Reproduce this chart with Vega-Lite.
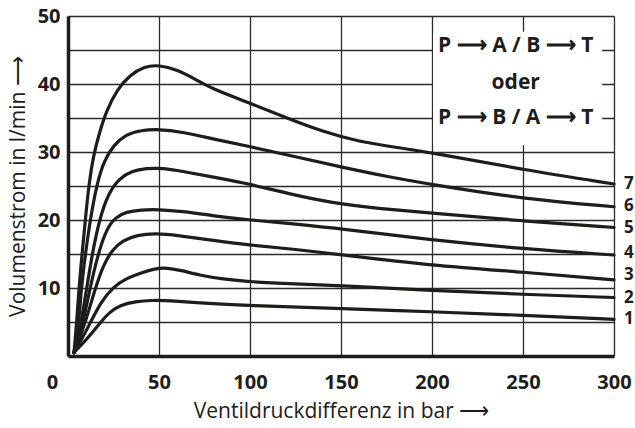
{
  "$schema": "https://vega.github.io/schema/vega-lite/v6.json",
  "autosize": "none",
  "width": 546,
  "height": 340,
  "padding": {"left": 68, "top": 16, "right": 21, "bottom": 72},
  "background": "white",
  "config": {
    "view": {"stroke": null},
    "font": "Open Sans",
    "axis": {"gridColor": "#2b2b2b", "gridWidth": 1.3, "gridOpacity": 1, "ticks": false, "domainColor": "#1d1d1b", "domainWidth": 3.5, "labelColor": "#1d1d1b", "titleColor": "#1d1d1b", "labelFont": "Open Sans", "labelFontWeight": "bold", "labelFontSize": 20, "titleFont": "Open Sans", "titleFontWeight": "normal", "titleFontSize": 21}
  },
  "datasets": {
    "curves": [
      {"curve": 7, "bar": 3.3, "flow": 0.5}, {"curve": 7, "bar": 4.8, "flow": 5}, {"curve": 7, "bar": 6, "flow": 10}, {"curve": 7, "bar": 7.9, "flow": 15.5}, {"curve": 7, "bar": 9.7, "flow": 20.5}, {"curve": 7, "bar": 11.5, "flow": 25.3}, {"curve": 7, "bar": 14, "flow": 29.5}, {"curve": 7, "bar": 17, "flow": 32.6}, {"curve": 7, "bar": 21, "flow": 36}, {"curve": 7, "bar": 27, "flow": 39.2}, {"curve": 7, "bar": 34, "flow": 41.3}, {"curve": 7, "bar": 42, "flow": 42.6}, {"curve": 7, "bar": 50, "flow": 42.8}, {"curve": 7, "bar": 60, "flow": 42.1}, {"curve": 7, "bar": 70, "flow": 40.7}, {"curve": 7, "bar": 80, "flow": 39.2}, {"curve": 7, "bar": 100, "flow": 37.2}, {"curve": 7, "bar": 120, "flow": 35.0}, {"curve": 7, "bar": 140, "flow": 33.0}, {"curve": 7, "bar": 160, "flow": 31.5}, {"curve": 7, "bar": 180, "flow": 30.7}, {"curve": 7, "bar": 200, "flow": 29.9}, {"curve": 7, "bar": 250, "flow": 27.4}, {"curve": 7, "bar": 300, "flow": 25.3},
      {"curve": 6, "bar": 3.3, "flow": 0.5}, {"curve": 6, "bar": 6, "flow": 5}, {"curve": 6, "bar": 7.3, "flow": 10}, {"curve": 6, "bar": 9.7, "flow": 15.3}, {"curve": 6, "bar": 12.5, "flow": 20.5}, {"curve": 6, "bar": 16, "flow": 25.5}, {"curve": 6, "bar": 20, "flow": 28.8}, {"curve": 6, "bar": 25, "flow": 31}, {"curve": 6, "bar": 32, "flow": 32.6}, {"curve": 6, "bar": 40, "flow": 33.2}, {"curve": 6, "bar": 50, "flow": 33.35}, {"curve": 6, "bar": 62, "flow": 33.0}, {"curve": 6, "bar": 80, "flow": 31.9}, {"curve": 6, "bar": 100, "flow": 30.8}, {"curve": 6, "bar": 125, "flow": 29.3}, {"curve": 6, "bar": 150, "flow": 27.8}, {"curve": 6, "bar": 175, "flow": 26.4}, {"curve": 6, "bar": 200, "flow": 25.2}, {"curve": 6, "bar": 250, "flow": 23.1}, {"curve": 6, "bar": 300, "flow": 21.95},
      {"curve": 5, "bar": 3.3, "flow": 0.5}, {"curve": 5, "bar": 7.3, "flow": 5}, {"curve": 5, "bar": 10.3, "flow": 10}, {"curve": 5, "bar": 13.4, "flow": 15.2}, {"curve": 5, "bar": 17.5, "flow": 20.3}, {"curve": 5, "bar": 22, "flow": 23.8}, {"curve": 5, "bar": 28, "flow": 26.1}, {"curve": 5, "bar": 35, "flow": 27.2}, {"curve": 5, "bar": 43, "flow": 27.6}, {"curve": 5, "bar": 52, "flow": 27.65}, {"curve": 5, "bar": 64, "flow": 27.1}, {"curve": 5, "bar": 80, "flow": 26.3}, {"curve": 5, "bar": 100, "flow": 25.3}, {"curve": 5, "bar": 122, "flow": 23.8}, {"curve": 5, "bar": 145, "flow": 22.5}, {"curve": 5, "bar": 170, "flow": 21.7}, {"curve": 5, "bar": 200, "flow": 21.0}, {"curve": 5, "bar": 250, "flow": 19.85}, {"curve": 5, "bar": 300, "flow": 18.9},
      {"curve": 4, "bar": 3.3, "flow": 0.5}, {"curve": 4, "bar": 8.4, "flow": 5}, {"curve": 4, "bar": 12.1, "flow": 10}, {"curve": 4, "bar": 16.5, "flow": 15}, {"curve": 4, "bar": 21, "flow": 18.6}, {"curve": 4, "bar": 26, "flow": 20.4}, {"curve": 4, "bar": 32, "flow": 21.2}, {"curve": 4, "bar": 40, "flow": 21.5}, {"curve": 4, "bar": 50, "flow": 21.55}, {"curve": 4, "bar": 62, "flow": 21.3}, {"curve": 4, "bar": 80, "flow": 20.6}, {"curve": 4, "bar": 100, "flow": 20.0}, {"curve": 4, "bar": 125, "flow": 19.4}, {"curve": 4, "bar": 150, "flow": 18.7}, {"curve": 4, "bar": 200, "flow": 17.05}, {"curve": 4, "bar": 250, "flow": 15.75}, {"curve": 4, "bar": 300, "flow": 14.85},
      {"curve": 3, "bar": 3.3, "flow": 0.5}, {"curve": 3, "bar": 9.7, "flow": 5}, {"curve": 3, "bar": 15, "flow": 10}, {"curve": 3, "bar": 19.5, "flow": 13.4}, {"curve": 3, "bar": 24, "flow": 15.5}, {"curve": 3, "bar": 30, "flow": 17}, {"curve": 3, "bar": 38, "flow": 17.8}, {"curve": 3, "bar": 48, "flow": 18.05}, {"curve": 3, "bar": 60, "flow": 17.75}, {"curve": 3, "bar": 80, "flow": 17.0}, {"curve": 3, "bar": 100, "flow": 16.3}, {"curve": 3, "bar": 125, "flow": 15.7}, {"curve": 3, "bar": 150, "flow": 14.9}, {"curve": 3, "bar": 200, "flow": 13.3}, {"curve": 3, "bar": 250, "flow": 12.35}, {"curve": 3, "bar": 300, "flow": 11.2},
      {"curve": 2, "bar": 3.3, "flow": 0.5}, {"curve": 2, "bar": 7, "flow": 2.2}, {"curve": 2, "bar": 12.5, "flow": 5}, {"curve": 2, "bar": 18, "flow": 7.9}, {"curve": 2, "bar": 25, "flow": 10.2}, {"curve": 2, "bar": 32, "flow": 11.4}, {"curve": 2, "bar": 40, "flow": 12.2}, {"curve": 2, "bar": 47, "flow": 12.8}, {"curve": 2, "bar": 54, "flow": 13.0}, {"curve": 2, "bar": 62, "flow": 12.6}, {"curve": 2, "bar": 72, "flow": 11.9}, {"curve": 2, "bar": 85, "flow": 11.3}, {"curve": 2, "bar": 100, "flow": 10.9}, {"curve": 2, "bar": 125, "flow": 10.6}, {"curve": 2, "bar": 150, "flow": 10.35}, {"curve": 2, "bar": 200, "flow": 9.6}, {"curve": 2, "bar": 250, "flow": 9.07}, {"curve": 2, "bar": 300, "flow": 8.6},
      {"curve": 1, "bar": 3.3, "flow": 0.5}, {"curve": 1, "bar": 8, "flow": 1.8}, {"curve": 1, "bar": 13, "flow": 3.3}, {"curve": 1, "bar": 18, "flow": 5}, {"curve": 1, "bar": 23, "flow": 6.5}, {"curve": 1, "bar": 29, "flow": 7.5}, {"curve": 1, "bar": 37, "flow": 8.0}, {"curve": 1, "bar": 46, "flow": 8.2}, {"curve": 1, "bar": 56, "flow": 8.15}, {"curve": 1, "bar": 70, "flow": 7.85}, {"curve": 1, "bar": 100, "flow": 7.4}, {"curve": 1, "bar": 145, "flow": 7.05}, {"curve": 1, "bar": 200, "flow": 6.5}, {"curve": 1, "bar": 250, "flow": 6.0}, {"curve": 1, "bar": 300, "flow": 5.4}
    ],
    "labels": [
      {"label": "7", "bar": 300, "flow": 25.3},
      {"label": "6", "bar": 300, "flow": 22.1},
      {"label": "5", "bar": 300, "flow": 18.8},
      {"label": "4", "bar": 300, "flow": 15.1},
      {"label": "3", "bar": 300, "flow": 11.9},
      {"label": "2", "bar": 300, "flow": 8.6},
      {"label": "1", "bar": 300, "flow": 5.4}
    ],
    "box": [{"bar": 200.6, "bar2": 293.5, "flow": 31.0, "flow2": 47.7}],
    "notes": [
      {"text": "P ⟶ A / B ⟶ T", "bar": 246, "flow": 45.6},
      {"text": "oder", "bar": 246, "flow": 40.2},
      {"text": "P ⟶ B / A ⟶ T", "bar": 246, "flow": 35.0}
    ]
  },
  "encoding": {
    "x": {
      "field": "bar", "type": "quantitative",
      "scale": {"domain": [0, 300], "nice": false, "zero": true},
      "axis": {
        "values": [0, 50, 100, 150, 200, 250, 300],
        "grid": true,
        "labelPadding": 16,
        "labelOffset": {"condition": {"test": "datum.value === 0", "value": -16}, "value": 0},
        "labelFlush": false,
        "title": "Ventildruckdifferenz in bar ⟶",
        "titlePadding": 8
      }
    },
    "y": {
      "field": "flow", "type": "quantitative",
      "scale": {"domain": [0, 50], "nice": false},
      "axis": {
        "values": [5, 10, 15, 20, 25, 30, 35, 40, 45, 50],
        "labelExpr": "datum.value % 10 === 0 ? datum.label : ''",
        "grid": true,
        "labelPadding": 8,
        "labelFlush": false,
        "title": "Volumenstrom in l/min ⟶",
        "titleFontSize": 21,
        "titlePadding": 9
      }
    }
  },
  "layer": [
    {
      "data": {"name": "box"},
      "mark": {"type": "rect", "fill": "white", "stroke": null},
      "encoding": {"x2": {"field": "bar2"}, "y2": {"field": "flow2"}}
    },
    {
      "data": {"name": "curves"},
      "mark": {"type": "line", "interpolate": "basis", "strokeWidth": 3.2, "color": "#1d1d1b", "strokeCap": "round"},
      "encoding": {"detail": {"field": "curve", "type": "nominal"}}
    },
    {
      "data": {"name": "labels"},
      "mark": {"type": "text", "align": "left", "baseline": "middle", "dx": 10, "font": "Open Sans", "fontWeight": "bold", "fontSize": 17, "color": "#1d1d1b"},
      "encoding": {"text": {"field": "label"}}
    },
    {
      "data": {"name": "notes"},
      "mark": {"type": "text", "align": "center", "baseline": "middle", "font": "Open Sans", "fontWeight": "bold", "fontSize": 21, "color": "#1d1d1b"},
      "encoding": {"text": {"field": "text"}}
    }
  ]
}
